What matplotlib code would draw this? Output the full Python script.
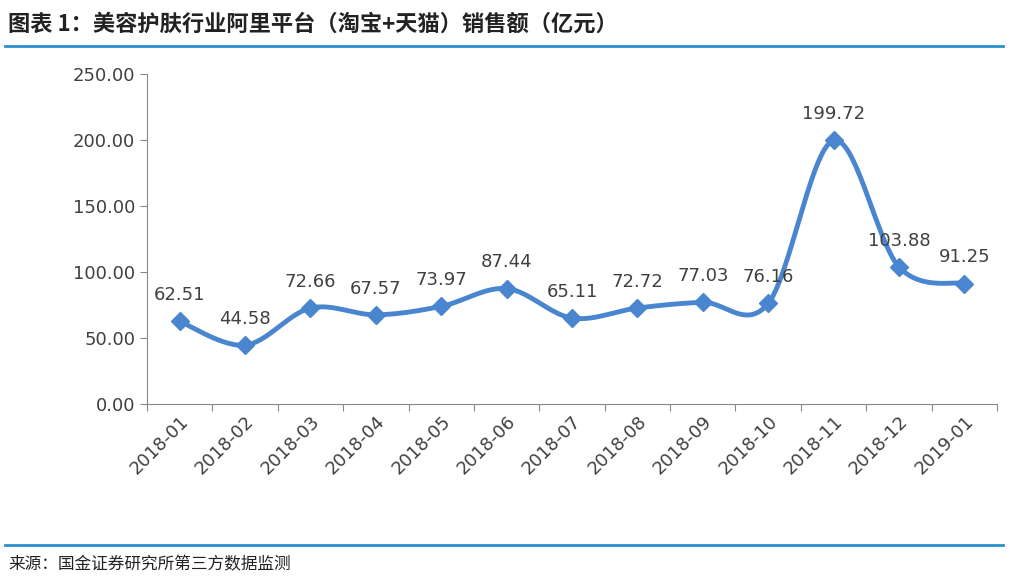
import matplotlib.pyplot as plt
import numpy as np

plt.rcParams['font.family'] = ['Noto Sans CJK SC', 'DejaVu Sans']

months = ['2018-01', '2018-02', '2018-03', '2018-04', '2018-05', '2018-06', '2018-07',
          '2018-08', '2018-09', '2018-10', '2018-11', '2018-12', '2019-01']
sales = [62.51, 44.58, 72.66, 67.57, 73.97, 87.44, 65.11, 72.72, 77.03, 76.16, 199.72, 103.88, 91.25]

blue = '#4A86D0'
fig = plt.figure(figsize=(10.16, 5.83), dpi=100)
ax = fig.add_axes([147 / 1016, 1 - 404 / 583, 850 / 1016, 330 / 583])

x = np.arange(len(sales)) + 0.5
y = np.array(sales)

# smooth curve through points (Catmull-Rom)
px = np.concatenate([[x[0]], x, [x[-1]]])
py = np.concatenate([[y[0]], y, [y[-1]]])
cx, cy = [], []
for i in range(1, len(px) - 2):
    t = np.linspace(0, 1, 30)
    for arr, out in ((px, cx), (py, cy)):
        p0, p1, p2, p3 = arr[i - 1], arr[i], arr[i + 1], arr[i + 2]
        out.extend(0.5 * (2 * p1 + (-p0 + p2) * t + (2 * p0 - 5 * p1 + 4 * p2 - p3) * t ** 2
                          + (-p0 + 3 * p1 - 3 * p2 + p3) * t ** 3))
ax.plot(cx, cy, color=blue, lw=3.5, solid_capstyle='round')
ax.plot(x, y, 'D', color=blue, ms=9)

for xi, yi in zip(x, y):
    ax.text(xi, yi + 13, f'{yi:.2f}', ha='center', va='bottom', fontsize=13,
            color='#404040', family='DejaVu Sans')

ax.set_xlim(0, len(sales))
ax.set_ylim(0, 250)
ax.set_yticks(np.arange(0, 251, 50))
ax.set_yticklabels([f'{v:.2f}' for v in np.arange(0, 251, 50)], fontsize=13,
                   color='#404040', family='DejaVu Sans')
ax.set_xticks(np.arange(len(sales) + 1))
ax.set_xticklabels([])
ax.set_xticks(x, minor=True)
ax.set_xticklabels(months, minor=True, rotation=45, ha='right', rotation_mode='anchor',
                   fontsize=13, color='#404040', family='DejaVu Sans')
ax.tick_params(axis='x', which='minor', length=0, pad=6)
ax.tick_params(axis='x', which='major', length=5, color='#888888')
ax.tick_params(axis='y', length=5, color='#888888')
for s in ['top', 'right']:
    ax.spines[s].set_visible(False)
for s in ['left', 'bottom']:
    ax.spines[s].set_color('#888888')

fig.text(8 / 1016, 1 - 24 / 583, '图表 1：美容护肤行业阿里平台（淘宝+天猫）销售额（亿元）',
         fontsize=16, fontweight='bold', style='italic', va='center', color='#222222')
fig.add_artist(plt.Line2D([5 / 1016, 1003 / 1016], [1 - 46 / 583] * 2, color='#2E8FCF', lw=2))
fig.add_artist(plt.Line2D([5 / 1016, 1003 / 1016], [1 - 545 / 583] * 2, color='#2E8FCF', lw=2))
fig.text(8 / 1016, 1 - 565 / 583, '来源：国金证券研究所第三方数据监测', fontsize=12,
         va='center', color='#222222')

fig.savefig('out.png', dpi=100)
